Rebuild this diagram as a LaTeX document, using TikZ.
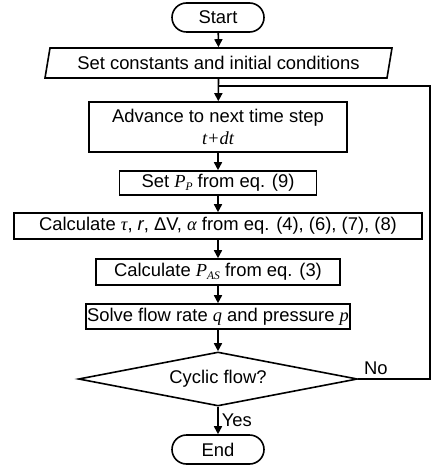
\documentclass[tikz,border=0pt]{standalone}
\usepackage{fontspec}
\setmainfont{Liberation Sans}
\newfontfamily\serfam{Liberation Serif}
\usetikzlibrary{arrows.meta,shapes.geometric}
\newcommand{\mv}[1]{{\serfam\itshape #1}}
\newcommand{\sbs}[1]{\raisebox{-2.5pt}{\fontsize{11.5}{11.5}\selectfont\serfam\itshape #1}}
\begin{document}
\begin{tikzpicture}[x=1pt,y=-1pt,
  line width=1.6pt,
  every node/.style={font=\fontsize{18.4}{21}\selectfont, inner sep=0pt},
  term/.style={draw, rounded corners=14.5pt, minimum width=92pt, minimum height=29pt},
  proc/.style={draw, minimum height=25pt},
  dec/.style={draw, diamond, aspect=5.2, minimum width=279pt, minimum height=54pt},
  arr/.style={-{Triangle[length=8pt,width=8pt]}}]
\useasboundingbox (0,0) rectangle (431,470);
\node[term] (start) at (218,17.5) {Start};
\node[minimum width=342pt, minimum height=30pt] (init) at (218.5,63) {Set constants and initial conditions};
\draw (45,78) -- (50,48) -- (392,48) -- (387,78) -- cycle;
\node[proc, minimum width=258pt, minimum height=50pt, align=center] (adv) at (218,127)
  {Advance to next time step\\[1pt]\mv{t+dt}};
\node[proc, minimum width=197pt, minimum height=24pt] (setp) at (218,183) {Set \mv{P}\sbs{P} from eq. (9)};
\node[proc, minimum width=408pt, minimum height=26pt] (calc) at (218,226) {Calculate \mv{τ}, \textit{r}, ΔV, \mv{α} from eq. (4), (6), (7), (8)};
\node[proc, minimum width=244pt, minimum height=26pt] (pas) at (218,272) {Calculate \mv{P}\sbs{AS} from eq. (3)};
\node[proc, minimum width=264pt, minimum height=25pt] (solve) at (218,316.5) {Solve flow rate \mv{q} and pressure \mv{p}};
\node[dec] (cyc) at (218,379) {Cyclic flow?};
\node[term] (end) at (218,449.5) {End};
\coordinate (jn) at (218,86);
\coordinate (rgt) at (430,86);
\draw[arr] (start) -- (init.north);
\draw[arr] (init.south) -- (adv);
\draw[arr] (adv) -- (setp);
\draw[arr] (setp) -- (calc);
\draw[arr] (calc) -- (pas);
\draw[arr] (pas) -- (solve);
\draw[arr] (solve) -- (cyc);
\draw[arr] (cyc) -- node[right=3pt, pos=0.5] {Yes} (end);
\draw (cyc.east) -- (cyc.east -| rgt) -- (rgt) -- (jn);
\node[anchor=south west] (no) at ([xshift=5pt,yshift=4pt]cyc.east) {No};
\end{tikzpicture}
\end{document}
